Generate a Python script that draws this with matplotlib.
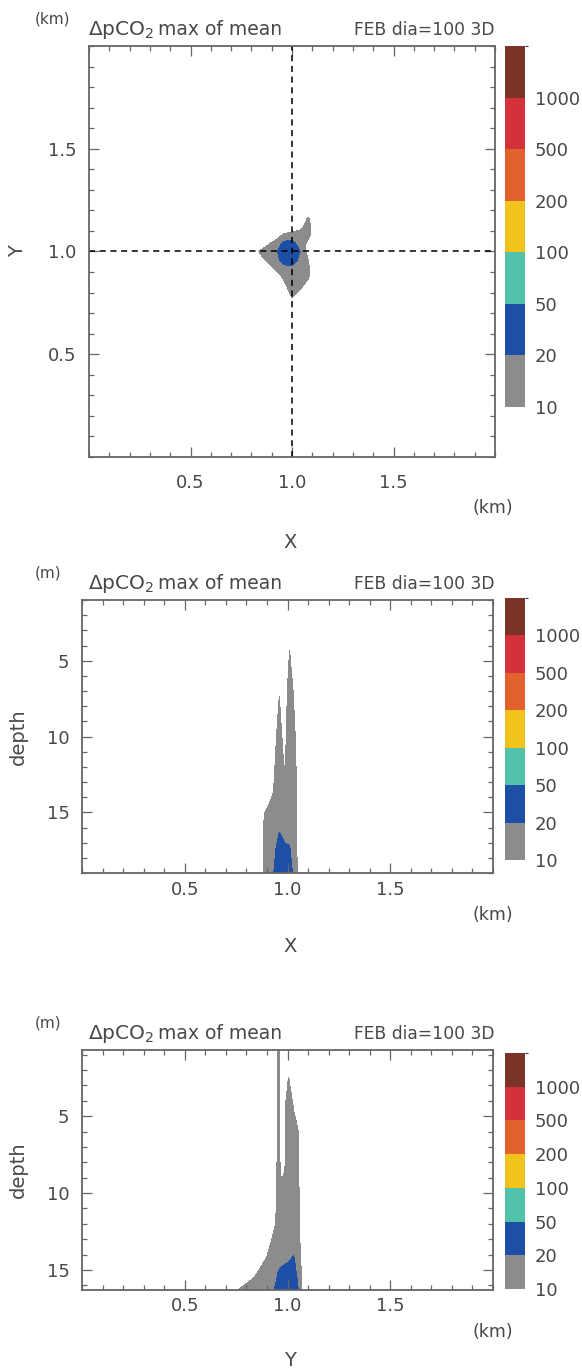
import numpy as np
import matplotlib
matplotlib.use('Agg')
import matplotlib.pyplot as plt
from matplotlib.colors import ListedColormap, BoundaryNorm
from matplotlib.ticker import MultipleLocator, FixedLocator

W, H = 582, 1371

# colour classes of delta pCO2 (uatm)
levels = [10, 20, 50, 100, 200, 500, 1000, 5000]
level_labels = ['10', '20', '50', '100', '200', '500', '1000']
colors = ['#8c8c8c', '#1e4fa6', '#52c3aa', '#f2c31c', '#e2622e', '#d4323a', '#7b3229']

# panel 1: horizontal plane (x, y in km)
xy_x = [0.0, 0.80, 0.84, 0.88, 0.92, 0.96, 1.00, 1.04, 1.08, 1.12, 2.0]
xy_y = [0.0, 0.72, 0.76, 0.80, 0.84, 0.88, 0.92, 0.96, 1.00, 1.04, 1.08, 1.12, 1.16, 1.20, 2.0]
xy_val = [
    [0, 0, 0, 0, 0, 0, 0, 0, 0, 0, 0],
    [0, 2, 2, 2, 2, 2, 5, 2, 2, 2, 0],
    [0, 2, 2, 2, 2, 4, 9, 4, 2, 2, 0],
    [0, 2, 2, 2, 3, 6, 12, 9, 4, 2, 0],
    [0, 2, 2, 3, 5, 9, 13, 12, 8, 2, 0],
    [0, 2, 3, 5, 8, 11, 14, 13, 11, 4, 0],
    [0, 2, 4, 8, 11, 16, 18, 14, 11, 4, 0],
    [0, 3, 8, 11, 15, 26, 26, 17, 10, 3, 0],
    [0, 4, 10.5, 13, 18, 28, 28, 20, 6, 3, 0],
    [0, 2, 6, 9, 12, 23, 24, 15, 8, 3, 0],
    [0, 2, 3, 6, 7, 11, 13, 13, 12, 3, 0],
    [0, 2, 2, 3, 4, 4, 5, 8, 13, 3, 0],
    [0, 2, 2, 2, 2, 3, 3, 4, 11, 3, 0],
    [0, 2, 2, 2, 2, 2, 2, 2, 4, 2, 0],
    [0, 0, 0, 0, 0, 0, 0, 0, 0, 0, 0],
]

# panel 2: x - depth section (km, m)
xz_x = [0.0, 0.80, 0.87, 0.89, 0.93, 0.96, 0.985, 1.01, 1.04, 1.06, 1.12, 2.0]
xz_z = [1, 4, 7, 10, 13, 14.5, 16, 17.5, 19]
xz_val = [
    [0, 1, 1, 1, 1, 2, 1, 3, 1, 1, 1, 0],
    [0, 1, 1, 1, 2, 4, 3, 9.5, 3, 1, 1, 0],
    [0, 1, 1, 2, 4, 9.5, 5, 14, 7, 2, 1, 0],
    [0, 1, 2, 3, 5, 14, 6, 16, 9.5, 3, 1, 0],
    [0, 1, 3, 5, 9, 15, 10.5, 15, 11, 4, 1, 0],
    [0, 2, 5, 9, 11, 16, 12, 15, 12, 5, 1, 0],
    [0, 3, 7, 12, 14, 19, 16, 16, 12, 5, 1, 0],
    [0, 3, 7, 12, 17, 24, 22, 21, 12, 5, 1, 0],
    [0, 3, 7, 12, 19, 28, 28, 26, 13, 5, 1, 0],
]

# panel 3: y - depth section (km, m)
yz_y = [0.0, 0.70, 0.76, 0.85, 0.90, 0.94, 0.955, 0.97, 0.985, 1.005, 1.03, 1.05, 1.07, 1.10, 2.0]
yz_z = [0.7, 2.6, 4.3, 6.1, 7.8, 9.5, 11.3, 13.0, 14.3, 15.6, 16.5]
yz_val = [
    [0, 1, 1, 1, 1, 2, 14, 2, 2, 5, 1, 1, 1, 1, 0],
    [0, 1, 1, 1, 1, 2, 14, 2, 5, 10.3, 6, 2, 1, 1, 0],
    [0, 1, 1, 1, 1, 2, 14, 2, 9, 13, 9.5, 5, 2, 1, 0],
    [0, 1, 1, 1, 2, 3, 14, 3, 9, 14, 12, 11, 4, 1, 0],
    [0, 1, 1, 1, 2, 4, 14, 6, 8, 14, 13, 12, 5, 1, 0],
    [0, 1, 1, 2, 3, 5, 14, 10.8, 12, 15, 13, 12, 5, 1, 0],
    [0, 1, 1, 3, 5, 8, 15, 12, 13, 15, 14, 13, 6, 1, 0],
    [0, 1, 2, 5, 7, 12, 16, 13, 14, 15, 16, 13, 7, 1, 0],
    [0, 1, 4, 7, 10.5, 14, 17, 18, 18.5, 19, 21, 15, 8, 1, 0],
    [0, 3, 7, 11, 12, 18, 22, 23, 24, 25, 25, 19, 9, 1, 0],
    [0, 6, 11, 12, 16, 22, 24, 25, 26, 27, 26, 22, 9, 1, 0],
]

cmap = ListedColormap(colors)
norm = BoundaryNorm(levels, cmap.N)
frame_col = '#666666'
text_col = '#484848'
plt.rcParams['font.family'] = ['DejaVu Sans']


def fig_rect(left, top, right, bottom):
    return [left / W, 1 - bottom / H, (right - left) / W, (bottom - top) / H]


def header(unit, top):
    base = 1 - (top - 11) / H
    fig.text(35 / W, base + 11 / H, unit, fontsize=11, color=text_col, va='baseline')
    fig.text(88 / W, base, r'$\Delta$pCO$_2$', fontsize=14.5, color=text_col, va='baseline')
    fig.text(158 / W, base, 'max of mean', fontsize=13.5, color=text_col, va='baseline')
    fig.text(494 / W, base, 'FEB dia=100 3D', fontsize=12.3, color=text_col, va='baseline', ha='right')


def style_axes(ax, top, bottom, xlabel, pads, depth=False):
    tick_pad, km_off, lab_off = pads
    ax.set_xlim(0, 2)
    ax.xaxis.set_major_locator(FixedLocator([0.5, 1.0, 1.5]))
    ax.xaxis.set_minor_locator(MultipleLocator(0.1))
    ax.set_xticklabels(['0.5', '1.0', '1.5'])
    if depth:
        ax.yaxis.set_major_locator(FixedLocator([5, 10, 15]))
        ax.yaxis.set_minor_locator(MultipleLocator(1))
    else:
        ax.set_ylim(0, 2)
        ax.yaxis.set_major_locator(FixedLocator([0.5, 1.0, 1.5]))
        ax.yaxis.set_minor_locator(MultipleLocator(0.1))
        ax.set_yticklabels(['0.5', '1.0', '1.5'])
    ax.tick_params(which='both', direction='in', top=True, right=True, colors=frame_col,
                   labelcolor=text_col, labelsize=13, width=0.9)
    ax.tick_params(which='major', length=7)
    ax.tick_params(which='minor', length=3.5)
    ax.tick_params(axis='x', which='major', pad=tick_pad)
    ax.tick_params(axis='y', which='major', pad=9)
    for sp in ax.spines.values():
        sp.set_color(frame_col)
        sp.set_linewidth(1.3)
    fig.text(18 / W, 1 - (top + bottom) / 2 / H, 'depth' if depth else 'Y', fontsize=14,
             color=text_col, rotation=90, va='center', ha='center')
    fig.text(472 / W, 1 - (bottom + km_off) / H, '(km)', fontsize=12.5, color=text_col, va='center')
    fig.text(290 / W, 1 - (bottom + lab_off) / H, xlabel, fontsize=14, color=text_col,
             va='center', ha='center')


def add_colorbar(top, bottom):
    cax = fig.add_axes(fig_rect(505, top, 525, bottom))
    sm = plt.cm.ScalarMappable(cmap=cmap, norm=norm)
    cb = fig.colorbar(sm, cax=cax, spacing='uniform', ticks=levels[:-1])
    cb.ax.set_yticklabels(level_labels)
    cb.outline.set_visible(False)
    cb.ax.tick_params(length=0, labelsize=13, labelcolor=text_col, pad=7)


fig = plt.figure(figsize=(W / 100, H / 100), dpi=100)

# panel 1
ax1 = fig.add_axes(fig_rect(89, 46, 495, 457))
ax1.contourf(xy_x, xy_y, xy_val, levels=levels, cmap=cmap, norm=norm)
ax1.axvline(1.0, color='black', ls=(0, (4, 3)), lw=1.1)
ax1.axhline(1.0, color='black', ls=(0, (4, 3)), lw=1.1)
style_axes(ax1, 46, 457, 'X', (12, 51, 86))
header('(km)', 46)
add_colorbar(46, 407)

# panel 2
ax2 = fig.add_axes(fig_rect(82, 600, 493, 873))
ax2.contourf(xz_x, xz_z, xz_val, levels=levels, cmap=cmap, norm=norm)
ax2.set_ylim(19, 1)
style_axes(ax2, 600, 873, 'X', (6, 42, 73), depth=True)
header('(m)', 600)
add_colorbar(598, 860)

# panel 3
ax3 = fig.add_axes(fig_rect(82, 1050, 493, 1290))
ax3.contourf(yz_y, yz_z, yz_val, levels=levels, cmap=cmap, norm=norm)
ax3.set_ylim(16.3, 0.7)
style_axes(ax3, 1050, 1290, 'Y', (5, 42, 71), depth=True)
header('(m)', 1050)
add_colorbar(1053, 1289)

fig.savefig('out.png', dpi=100)
